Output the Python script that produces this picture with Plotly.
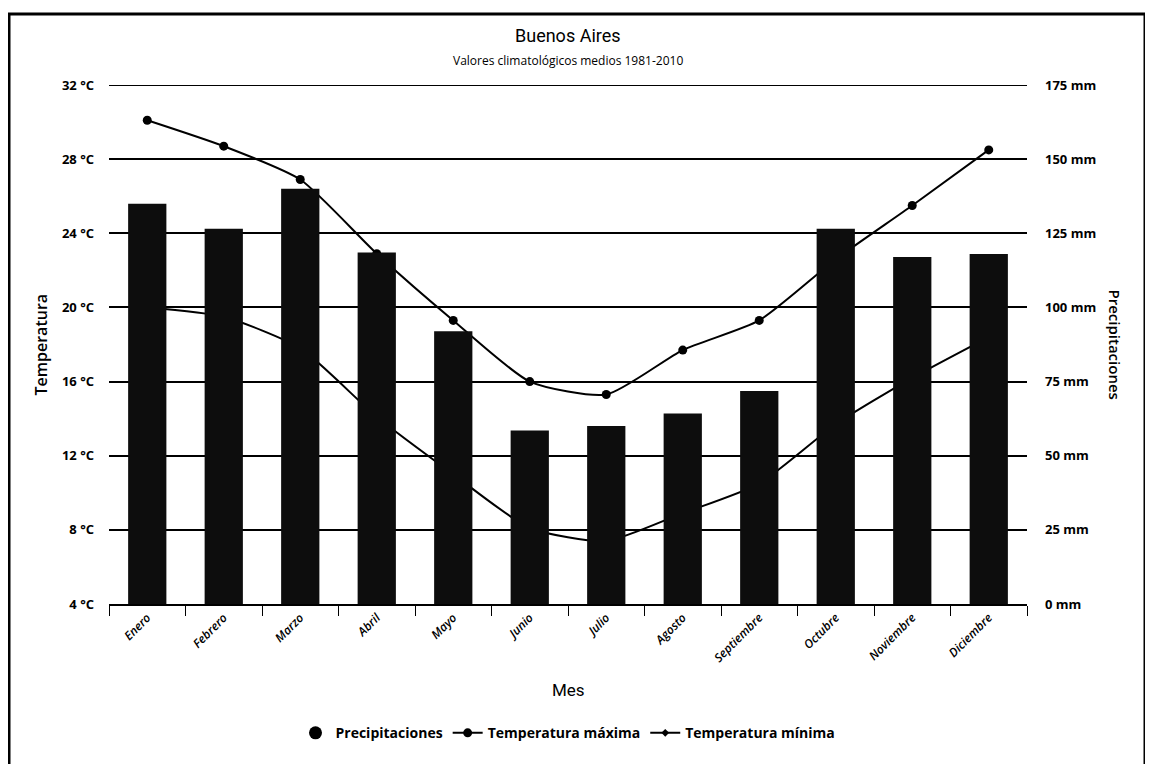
import plotly.graph_objects as go

meses = ["Enero", "Febrero", "Marzo", "Abril", "Mayo", "Junio", "Julio",
         "Agosto", "Septiembre", "Octubre", "Noviembre", "Diciembre"]
precipitaciones = [135.0, 126.5, 140.0, 118.5, 92.0, 58.5, 60.0, 64.2, 71.8, 126.5, 117.0, 118.0]
temp_max = [30.1, 28.7, 26.9, 22.9, 19.3, 16.0, 15.3, 17.7, 19.3, 22.6, 25.5, 28.5]
temp_min = [20.0, 19.5, 17.8, 14.1, 11.0, 8.1, 7.4, 8.9, 10.5, 13.7, 16.2, 18.4]

temp_ticks = [4, 8, 12, 16, 20, 24, 28, 32]
prec_ticks = [0, 25, 50, 75, 100, 125, 150, 175]

FONT = "Open Sans"
tick_font = dict(family=FONT, size=13, color="black", weight=700)

# the page body adds an 8px offset; compensate in the margins
OFF = 8
L, T, PW, PH = 109 - OFF, 85 - OFF, 918, 519

fig = go.Figure()

fig.add_trace(go.Scatter(
    x=meses, y=temp_max, name="Temperatura máxima", mode="lines+markers",
    line=dict(color="black", width=2, shape="spline", smoothing=0.6),
    marker=dict(color="black", size=9, symbol="circle"),
    legendrank=2, yaxis="y"))
fig.add_trace(go.Scatter(
    x=meses, y=temp_min, name="Temperatura mínima", mode="lines+markers",
    line=dict(color="black", width=2, shape="spline", smoothing=0.6),
    marker=dict(color="black", size=6, symbol="diamond"),
    legendrank=3, yaxis="y"))
fig.add_trace(go.Bar(
    x=meses, y=precipitaciones, name="Precipitaciones",
    marker=dict(color="#0d0d0d", line=dict(width=0)),
    width=0.5, showlegend=False, yaxis="y2"))
# legend entry with round symbol for the precipitation bars
fig.add_trace(go.Scatter(
    x=[None], y=[None], name="Precipitaciones", mode="markers",
    marker=dict(color="black", size=13, symbol="circle"),
    legendrank=1, yaxis="y2"))

fig.update_layout(
    width=1153, height=764,
    margin=dict(l=L, r=1153 - L - PW, t=T, b=764 - T - PH, autoexpand=False),
    paper_bgcolor="white", plot_bgcolor="white",
    showlegend=True,
    legend=dict(orientation="h", x=0.5, xanchor="center", y=-0.249, yanchor="middle",
                font=dict(family=FONT, size=14, color="black", weight=700),
                traceorder="normal", itemwidth=30),
    xaxis=dict(
        type="category", tickangle=-45,
        tickfont=dict(family=FONT, size=12, color="black", weight=600, style="italic"),
        ticks="outside", tickson="boundaries", ticklen=10, tickwidth=1, tickcolor="black",
        showline=True, linecolor="black", linewidth=2, showgrid=False,
        range=[-0.5, 11.5]),
    yaxis=dict(
        range=[4, 32], tickvals=temp_ticks, ticktext=[f"{v} °C" for v in temp_ticks],
        tickfont=tick_font, showgrid=True, gridcolor="black", gridwidth=2,
        zeroline=False, showline=False, ticks="", ticklabelstandoff=14),
    yaxis2=dict(
        range=[0, 175], tickvals=prec_ticks, ticktext=[f"{v} mm" for v in prec_ticks],
        tickfont=tick_font, overlaying="y", side="right", showgrid=False,
        zeroline=False, showline=False, ticks="", ticklabelstandoff=17),
    bargap=0.5,
)

# top gridline at 32 °C
fig.add_shape(type="line", xref="paper", yref="y", x0=0, x1=1, y0=32, y1=32,
              line=dict(color="black", width=2), layer="below")

fig.add_annotation(text="Buenos Aires", xref="paper", yref="paper", x=0.5, y=1.0,
                   yshift=62, showarrow=False,
                   font=dict(family="Roboto", size=18, color="black"))
fig.add_annotation(text="Valores climatológicos medios 1981-2010", xref="paper", yref="paper",
                   x=0.5, y=1.0, yshift=35, showarrow=False,
                   font=dict(family=FONT, size=12, color="black"))
fig.add_annotation(text="Temperatura", xref="paper", yref="paper", x=0, xshift=-69,
                   xanchor="center", y=0.5, textangle=-90, showarrow=False,
                   font=dict(family=FONT, size=16, color="black", weight=600))
fig.add_annotation(text="Precipitaciones", xref="paper", yref="paper", x=1, xshift=88,
                   xanchor="center", y=0.5, yshift=0, textangle=90, showarrow=False,
                   font=dict(family=FONT, size=15, color="black", weight=600))
fig.add_annotation(text="Mes", xref="paper", yref="paper", x=0.5, y=0, yshift=-98,
                   showarrow=False, font=dict(family="Roboto", size=17, color="black"))

# outer frame of the chart (reference pixel coords converted to paper coords)
def px_x(x):
    return (x - 109) / PW

def px_y(y):
    return (604 - y) / PH

fig.add_shape(type="rect", xref="paper", yref="paper",
              x0=px_x(9), x1=px_x(1145), y0=px_y(775), y1=px_y(14),
              line=dict(color="black", width=3), fillcolor="rgba(0,0,0,0)", layer="below")

fig.write_html("out.html")
